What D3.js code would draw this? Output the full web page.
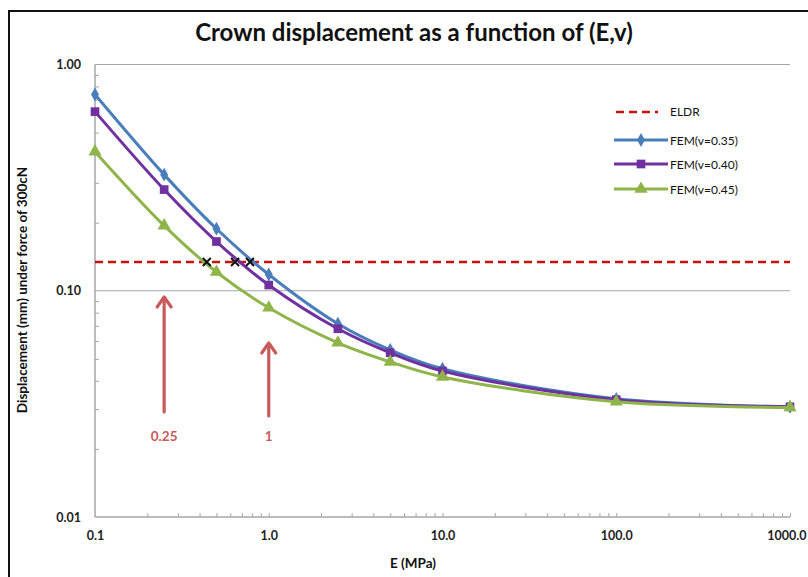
<!DOCTYPE html>
<html><head><meta charset="utf-8">
<script src="https://cdn.jsdelivr.net/npm/d3@7"></script>
<style>body{margin:0;background:#fff}svg{display:block}text{font-family:Lato,"Open Sans",sans-serif}</style>
</head><body><svg id="c" width="808" height="577"></svg>
<script>
const E = [0.1, 0.25, 0.5, 1, 2.5, 5, 10, 100, 1000];
const fem035 = [0.737, 0.326, 0.188, 0.118, 0.0715, 0.0548, 0.0452, 0.0333, 0.0307];
const fem040 = [0.619, 0.280, 0.165, 0.106, 0.0679, 0.0532, 0.0442, 0.0330, 0.0307];
const fem045 = [0.412, 0.194, 0.121, 0.0841, 0.0589, 0.0485, 0.0416, 0.0323, 0.0305];
const eldr = 0.134;
const crossE = [0.44, 0.64, 0.78];
const arrowE = [0.25, 1];
const arrowLabels = ["0.25", "1"];
const xTicks = [0.1, 1, 10, 100, 1000];
const xTickLabels = ["0.1", "1.0", "10.0", "100.0", "1000.0"];
const yTicks = [0.01, 0.1, 1];
const yTickLabels = ["0.01", "0.10", "1.00"];
const seriesNames = ["FEM(v=0.35)", "FEM(v=0.40)", "FEM(v=0.45)"];
const colors = ["#4a7ebb", "#7030a0", "#8fb54a"];

const svg = d3.select("#c");
const L = 95, R = 790, T = 64.5, B = 517;
const x = d3.scaleLog().domain([0.1, 1000]).range([L, R]);
const y = d3.scaleLog().domain([0.01, 1]).range([B, T]);

// frame
svg.append("path").attr("d", `M9,600 V11 H820`).attr("fill", "none").attr("stroke", "#111").attr("stroke-width", 2);

// title
svg.append("text").attr("x", 414).attr("y", 41).attr("text-anchor", "middle")
  .attr("font-size", 24).attr("font-weight", "bold").attr("fill", "#111").text("Crown displacement as a function of (E,v)");

// gridlines
svg.append("g").selectAll("line").data(yTicks.slice(1)).join("line")
  .attr("x1", L).attr("x2", R).attr("y1", d => y(d)).attr("y2", d => y(d))
  .attr("stroke", "#a6a6a6").attr("stroke-width", 1.2);

// minor ticks
const minorY = [];
[0.01, 0.1].forEach(b => { for (let k = 2; k <= 9; k++) minorY.push(b * k); });
const minorX = [];
[0.1, 1, 10, 100].forEach(b => { for (let k = 2; k <= 10; k++) minorX.push(b * k); });
svg.append("g").attr("transform", `translate(${L},0)`)
  .call(d3.axisLeft(y).tickValues(minorY).tickSize(-4).tickFormat(""))
  .call(g => { g.select(".domain").remove(); g.selectAll("line").attr("stroke", "#a6a6a6"); });
svg.append("g").attr("transform", `translate(0,${B})`)
  .call(d3.axisBottom(x).tickValues(minorX).tickSize(-4).tickFormat(""))
  .call(g => { g.select(".domain").remove(); g.selectAll("line").attr("stroke", "#a6a6a6"); });

// axes lines
svg.append("line").attr("x1", L).attr("x2", L).attr("y1", T).attr("y2", B).attr("stroke", "#a6a6a6").attr("stroke-width", 1.5);
svg.append("line").attr("x1", L).attr("x2", R).attr("y1", B).attr("y2", B).attr("stroke", "#a6a6a6").attr("stroke-width", 1.5);

// tick labels
svg.append("g").attr("transform", `translate(${L},0)`)
  .call(d3.axisLeft(y).tickValues(yTicks).tickSize(0).tickPadding(14).tickFormat((d, i) => yTickLabels[i]))
  .call(g => { g.select(".domain").remove(); g.selectAll("text").attr("font-size", 12.5).attr("font-weight", "bold").attr("fill", "#222").attr("font-family", "Lato"); });
svg.append("g").attr("transform", `translate(0,${B})`)
  .call(d3.axisBottom(x).tickValues(xTicks).tickSize(0).tickPadding(14).tickFormat((d, i) => xTickLabels[i]))
  .call(g => {
    g.select(".domain").remove();
    g.selectAll("text").attr("font-size", 12.5).attr("font-weight", "bold").attr("fill", "#222").attr("font-family", "Lato");
    g.selectAll(".tick").filter(d => d === 1000).select("text").attr("text-anchor", "end").attr("x", 806 - R);
  });

// axis titles
svg.append("text").attr("x", 413).attr("y", 568).attr("text-anchor", "middle").attr("font-size", 13.5).attr("font-weight", "bold").attr("fill", "#111").text("E (MPa)");
svg.append("text").attr("transform", "translate(27,290) rotate(-90)").attr("text-anchor", "middle").attr("font-size", 13.5).attr("font-weight", "bold").attr("fill", "#111").text("Displacement (mm) under force of 300cN");

// ELDR
svg.append("line").attr("x1", L).attr("x2", R).attr("y1", y(eldr)).attr("y2", y(eldr))
  .attr("stroke", "#cc1010").attr("stroke-width", 2.5).attr("stroke-dasharray", "8,5");

// series
const line = d3.line().x(d => x(d[0])).y(d => y(d[1])).curve(d3.curveCatmullRom.alpha(0.5));
const allSeries = [fem035, fem040, fem045];
const symbols = [d3.symbolDiamond, d3.symbolSquare, d3.symbolTriangle];
const symSizes = [55, 75, 75];
allSeries.forEach((vals, i) => {
  const pts = E.map((e, j) => [e, vals[j]]);
  svg.append("path").datum(pts).attr("d", line).attr("fill", "none").attr("stroke", colors[i]).attr("stroke-width", 3);
  svg.append("g").selectAll("path").data(pts).join("path")
    .attr("transform", d => `translate(${x(d[0])},${y(d[1])})`)
    .attr("d", d3.symbol(symbols[i], symSizes[i])).attr("fill", colors[i]);
});

// crosses
svg.append("g").selectAll("path").data(crossE).join("path")
  .attr("transform", d => `translate(${x(d)},${y(eldr)})`)
  .attr("d", "M-4,-4L4,4M-4,4L4,-4").attr("stroke", "#111").attr("stroke-width", 2);

// arrows
const arrowTop = [297, 343], arrowBot = [412, 416];
arrowE.forEach((e, i) => {
  const ax = x(e);
  const g = svg.append("g").attr("stroke", "#c85a5a").attr("fill", "none").attr("stroke-width", 3.2).attr("stroke-linecap", "round").attr("stroke-linejoin", "round");
  g.append("line").attr("x1", ax).attr("x2", ax).attr("y1", arrowTop[i] + 2).attr("y2", arrowBot[i]);
  g.append("path").attr("d", `M${ax - 7},${arrowTop[i] + 10}L${ax},${arrowTop[i]}L${ax + 7},${arrowTop[i] + 10}`);
  svg.append("text").attr("x", ax).attr("y", 441).attr("text-anchor", "middle").attr("font-size", 13.5).attr("font-weight", "bold").attr("fill", "#c85a5a").text(arrowLabels[i]);
});

// legend
const lg = svg.append("g").attr("transform", "translate(614,112)");
const legRows = [0, 28, 52, 77];
lg.append("line").attr("x1", 2).attr("x2", 44).attr("y1", 0).attr("y2", 0).attr("stroke", "#cc1010").attr("stroke-width", 2.5).attr("stroke-dasharray", "8,5");
lg.append("text").attr("x", 56).attr("y", 4).attr("font-size", 12).attr("fill", "#111").text("ELDR");
seriesNames.forEach((n, i) => {
  const yy = legRows[i + 1];
  lg.append("line").attr("x1", 0).attr("x2", 54).attr("y1", yy).attr("y2", yy).attr("stroke", colors[i]).attr("stroke-width", 3);
  lg.append("path").attr("transform", `translate(27,${yy})`).attr("d", d3.symbol(symbols[i], symSizes[i])).attr("fill", colors[i]);
  lg.append("text").attr("x", 56).attr("y", yy + 4.5).attr("font-size", 12).attr("fill", "#111").text(n);
});
</script></body></html>
